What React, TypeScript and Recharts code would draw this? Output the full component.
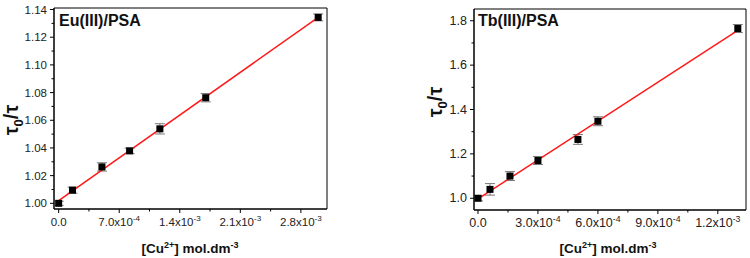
import React from "react";
import {
  ComposedChart,
  Scatter,
  Line,
  XAxis,
  YAxis,
  ErrorBar,
  ReferenceArea,
  Customized,
} from "recharts";

const FONT = "'Liberation Sans', Arial, Helvetica, sans-serif";

// Eu(III)/PSA
const euConc = [0, 1.6e-4, 5.0e-4, 8.2e-4, 1.17e-3, 1.7e-3, 3.0e-3];
const euRatio = [1.0, 1.0095, 1.0263, 1.0379, 1.0538, 1.0763, 1.1343];
const euErr = [0.0015, 0.0022, 0.003, 0.002, 0.0037, 0.003, 0.0025];
const euXMajor = [0, 7e-4, 1.4e-3, 2.1e-3, 2.8e-3];
const euXMinor = [3.5e-4, 1.05e-3, 1.75e-3, 2.45e-3];
const euYMajor = [1.0, 1.02, 1.04, 1.06, 1.08, 1.1, 1.12, 1.14];
const euYMinor = [1.01, 1.03, 1.05, 1.07, 1.09, 1.11, 1.13];

// Tb(III)/PSA
const tbConc = [0, 6e-5, 1.6e-4, 3.0e-4, 5.0e-4, 6.0e-4, 1.3e-3];
const tbRatio = [1.0, 1.04, 1.1, 1.17, 1.265, 1.347, 1.765];
const tbErr = [0.012, 0.026, 0.02, 0.018, 0.022, 0.02, 0.018];
const tbXMajor = [0, 3e-4, 6e-4, 9e-4, 1.2e-3];
const tbXMinor = [1.5e-4, 4.5e-4, 7.5e-4, 1.05e-3];
const tbYMajor = [1.0, 1.2, 1.4, 1.6, 1.8];
const tbYMinor = [1.1, 1.3, 1.5, 1.7];

function linFit(xs: number[], ys: number[]) {
  const n = xs.length;
  const mx = xs.reduce((a, b) => a + b, 0) / n;
  const my = ys.reduce((a, b) => a + b, 0) / n;
  let sxy = 0;
  let sxx = 0;
  for (let i = 0; i < n; i++) {
    sxy += (xs[i] - mx) * (ys[i] - my);
    sxx += (xs[i] - mx) * (xs[i] - mx);
  }
  const k = sxy / sxx;
  const b = my - k * mx;
  const last = xs[n - 1];
  return [
    { x: 0, y: b },
    { x: last, y: b + k * last },
  ];
}

const isMajor = (v: number, majors: number[]) => majors.some((m) => Math.abs(m - v) < 1e-9);

function XTick(props: any) {
  const { x, y, payload, majors, fs } = props;
  const v = payload.value;
  const major = isMajor(v, majors);
  let label: React.ReactNode = null;
  if (major) {
    if (v === 0) {
      label = "0.0";
    } else {
      const e = Math.floor(Math.log10(v) + 1e-9);
      const m = (v / Math.pow(10, e)).toFixed(1);
      label = (
        <>
          {m}x10
          <tspan fontSize={fs * 0.7} dy={-5}>{e}</tspan>
        </>
      );
    }
  }
  return (
    <g>
      <line x1={x} x2={x} y1={y} y2={y + (major ? 4 : 2.5)} stroke="#000" />
      {major && (
        <text x={x} y={y + 17} textAnchor="middle" fontSize={fs} fontFamily={FONT} fill="#222">
          {label}
        </text>
      )}
    </g>
  );
}

function YTick(props: any) {
  const { x, y, payload, majors, digits, fs } = props;
  const v = payload.value;
  const major = isMajor(v, majors);
  return (
    <g>
      <line x1={x} x2={x - (major ? 4 : 2.5)} y1={y} y2={y} stroke="#000" />
      {major && (
        <text x={x - 7} y={y + 4} textAnchor="end" fontSize={fs} fontFamily={FONT} fill="#222">
          {v.toFixed(digits)}
        </text>
      )}
    </g>
  );
}

const Square = (p: any) => <rect x={p.cx - 3.5} y={p.cy - 3.5} width={7} height={7} fill="#000" />;

function Panel(props: any) {
  const { conc, ratio, err, xMajor, xMinor, yMajor, yMinor, xDomain, yDomain, digits, margin, title, titleX, yLabelX, yLabelY, xLabelX, fs } = props;
  const points = conc.map((c: number, i: number) => ({ x: c, y: ratio[i], err: err[i] }));
  const fit = linFit(conc, ratio);
  const overlay = () => (
    <g fontFamily={FONT} fontWeight="bold" fill="#111">
      <text x={titleX} y={26} fontSize={16}>{title}</text>
      <text x={xLabelX} y={253} fontSize={13.5} textAnchor="middle">
        [Cu<tspan fontSize={9} dy={-5}>2+</tspan>
        <tspan dy={5}>] mol.dm</tspan>
        <tspan fontSize={9} dy={-5}>-3</tspan>
      </text>
      <text
        x={yLabelX}
        y={yLabelY}
        fontSize={20}
        textAnchor="middle"
        transform={`rotate(-90, ${yLabelX}, ${yLabelY})`}
        dy={7}
      >
        τ<tspan fontSize={13} dy={5}>0</tspan>
        <tspan dy={-5}>/τ</tspan>
      </text>
    </g>
  );
  return (
    <ComposedChart width={375} height={258} margin={margin}>
      <XAxis
        dataKey="x"
        type="number"
        domain={xDomain}
        allowDataOverflow
        ticks={[...xMajor, ...xMinor]}
        interval={0}
        tickSize={0}
        tickMargin={0}
        tickLine={false}
        axisLine={{ stroke: "#000" }}
        height={40}
        tick={(p: any) => <XTick {...p} majors={xMajor} fs={fs} />}
      />
      <YAxis
        dataKey="y"
        type="number"
        domain={yDomain}
        allowDataOverflow
        ticks={[...yMajor, ...yMinor]}
        interval={0}
        tickSize={0}
        tickMargin={0}
        tickLine={false}
        axisLine={{ stroke: "#000" }}
        width={40}
        tick={(p: any) => <YTick {...p} majors={yMajor} digits={digits} fs={fs} />}
      />
      <ReferenceArea
        x1={xDomain[0]}
        x2={xDomain[1]}
        y1={yDomain[0]}
        y2={yDomain[1]}
        fill="none"
        fillOpacity={0}
        stroke="#000"
        strokeWidth={1}
        ifOverflow="visible"
      />
      <Scatter data={points} dataKey="y" shape={Square} isAnimationActive={false}>
        <ErrorBar dataKey="err" direction="y" width={5} stroke="#777" strokeWidth={1} isAnimationActive={false} />
      </Scatter>
      <Line
        data={fit}
        dataKey="y"
        stroke="#ff1a1a"
        strokeWidth={1.5}
        dot={false}
        activeDot={false}
        isAnimationActive={false}
      />
      <Customized component={overlay} />
    </ComposedChart>
  );
}

export default function App() {
  return (
    <div style={{ position: "absolute", left: 0, top: 0, width: 750, height: 258, display: "flex", background: "#fff" }}>
      <Panel
        conc={euConc}
        ratio={euRatio}
        err={euErr}
        xMajor={euXMajor}
        xMinor={euXMinor}
        yMajor={euYMajor}
        yMinor={euYMinor}
        xDomain={[-5.4e-5, 3.102e-3]}
        yDomain={[0.9959, 1.1411]}
        digits={2}
        margin={{ top: 8, right: 48, bottom: 9, left: 14 }}
        title="Eu(III)/PSA"
        titleX={59}
        yLabelX={11}
        yLabelY={120}
        xLabelX={190}
        fs={11.5}
      />
      <Panel
        conc={tbConc}
        ratio={tbRatio}
        err={tbErr}
        xMajor={tbXMajor}
        xMinor={tbXMinor}
        yMajor={tbYMajor}
        yMinor={tbYMinor}
        xDomain={[-2.0e-5, 1.341e-3]}
        yDomain={[0.947, 1.853]}
        digits={1}
        margin={{ top: 9, right: 4, bottom: 8, left: 59 }}
        title="Tb(III)/PSA"
        titleX={103}
        yLabelX={60}
        yLabelY={102}
        xLabelX={233}
        fs={12.5}
      />
    </div>
  );
}
